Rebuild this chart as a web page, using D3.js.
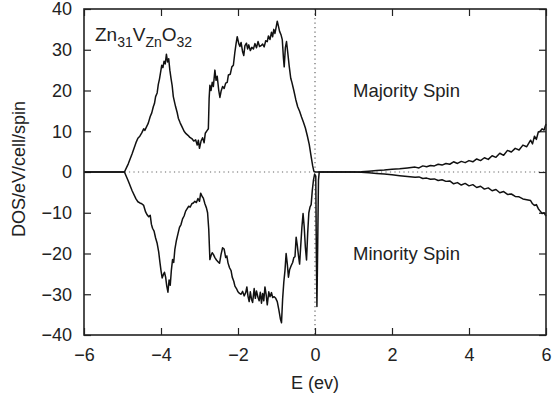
<!DOCTYPE html>
<html>
<head>
<meta charset="utf-8">
<script src="https://cdn.jsdelivr.net/npm/d3@7"></script>
<style>
  body { margin: 0; background: #fff; }
  svg { display: block; }
  text { font-family: "Liberation Sans", Arial, sans-serif; fill: #222; }
</style>
</head>
<body>
<div id="chart"></div>
<script>
// tick values
const xTicks = [-6, -4, -2, 0, 2, 4, 6];
const yTicks = [-40, -30, -20, -10, 0, 10, 20, 30, 40];

// majority spin (energy, dos)
const majE = [-6, -4.95, -4.85, -4.75, -4.65, -4.6, -4.55, -4.5, -4.45, -4.42, -4.38, -4.33, -4.28, -4.24, -4.2, -4.17, -4.14, -4.1, -4.07, -4.04,
  -4.01, -3.98, -3.95, -3.92, -3.89, -3.86, -3.83, -3.8, -3.77, -3.74, -3.71, -3.68, -3.65, -3.62, -3.58, -3.55, -3.5, -3.45, -3.4, -3.35,
  -3.3, -3.25, -3.2, -3.15, -3.1, -3.06, -3.03, -3.0, -2.96, -2.92, -2.88, -2.85, -2.8, -2.77, -2.75, -2.73, -2.7, -2.67, -2.64, -2.6,
  -2.57, -2.54, -2.5, -2.47, -2.44, -2.4, -2.36, -2.32, -2.28, -2.25, -2.2, -2.16, -2.12, -2.08, -2.05, -2.02, -1.98, -1.95, -1.92, -1.88,
  -1.85, -1.82, -1.78, -1.75, -1.72, -1.68, -1.64, -1.6, -1.56, -1.52, -1.48, -1.44, -1.4, -1.36, -1.32, -1.28, -1.24, -1.21, -1.17, -1.13,
  -1.1, -1.07, -1.04, -1.01, -0.98, -0.95, -0.92, -0.88, -0.85, -0.82, -0.8, -0.77, -0.74, -0.71, -0.67, -0.63, -0.6, -0.55, -0.5, -0.45,
  -0.4, -0.35, -0.3, -0.25, -0.2, -0.15, -0.1, -0.06, -0.03, 0, 1.0, 1.2, 1.4, 1.6, 1.8, 2.0, 2.2, 2.4, 2.6, 2.7,
  2.8, 2.9, 3.0, 3.1, 3.2, 3.3, 3.4, 3.5, 3.6, 3.7, 3.8, 3.9, 4.0, 4.1, 4.2, 4.3, 4.4, 4.5, 4.6, 4.7,
  4.8, 4.9, 5.0, 5.1, 5.2, 5.3, 5.4, 5.5, 5.6, 5.65, 5.7, 5.75, 5.8, 5.85, 5.9, 5.95, 6.0];
const majDos = [0, 0, 2.0, 4.5, 7.2, 8.3, 8.8, 9.6, 10.6, 10.2, 11.0, 12.0, 13.6, 14.5, 16.0, 16.8, 18.5, 19.4, 21.5, 22.8,
  24.5, 26.2, 25.6, 27.2, 26.5, 28.9, 27.0, 27.8, 25.0, 23.0, 21.2, 18.5, 17.2, 16.0, 14.6, 13.2, 12.0, 11.0, 10.0, 9.4,
  9.0, 8.5, 8.2, 7.6, 7.9, 6.6, 7.8, 5.8, 7.6, 8.4, 7.2, 9.5, 10.2, 10.6, 18.0, 21.3, 20.0, 22.0, 21.0, 25.0,
  22.5, 23.5, 20.0, 18.3, 19.8, 21.0, 20.5, 21.8, 22.0, 23.8, 24.0, 25.8, 26.2, 29.5, 31.5, 33.2, 31.5, 30.8, 31.8, 29.5,
  28.6, 31.0, 31.6, 30.2, 31.2, 29.8, 30.6, 30.2, 31.5, 30.5, 32.0, 30.8, 31.0, 31.4, 30.7, 32.2, 32.0, 33.4, 32.5, 34.3,
  33.2, 35.0, 34.0, 35.5, 37.0, 35.8, 34.5, 33.6, 32.5, 28.0, 25.8, 30.5, 32.0, 29.5, 26.0, 23.0, 22.0, 20.0, 17.8, 16.0,
  14.9, 13.5, 12.2, 10.8, 8.9, 6.8, 3.8, 1.5, 0.2, 0, 0, 0.05, 0.2, 0.35, 0.5, 0.7, 0.8, 1.0, 1.2, 1.0,
  1.5, 1.3, 1.6, 1.5, 1.9, 1.7, 2.1, 1.9, 2.5, 2.1, 2.6, 2.3, 2.8, 2.5, 3.2, 2.8, 3.5, 3.1, 4.0, 3.6,
  4.6, 4.1, 5.3, 4.9, 5.8, 5.4, 6.6, 6.2, 7.8, 6.9, 8.8, 8.0, 9.8, 10.0, 10.6, 10.3, 11.8];

// minority spin (energy, dos)
const minE = [-6, -4.95, -4.85, -4.75, -4.65, -4.6, -4.55, -4.5, -4.45, -4.4, -4.36, -4.32, -4.28, -4.25, -4.22, -4.18, -4.14, -4.1, -4.06, -4.03,
  -4.0, -3.97, -3.94, -3.91, -3.88, -3.85, -3.82, -3.79, -3.76, -3.73, -3.7, -3.67, -3.64, -3.6, -3.56, -3.52, -3.48, -3.44, -3.4, -3.36,
  -3.32, -3.28, -3.24, -3.2, -3.16, -3.12, -3.08, -3.04, -3.0, -2.97, -2.93, -2.9, -2.86, -2.82, -2.79, -2.76, -2.73, -2.7, -2.67, -2.64,
  -2.6, -2.56, -2.52, -2.48, -2.44, -2.4, -2.36, -2.32, -2.29, -2.26, -2.22, -2.18, -2.15, -2.11, -2.08, -2.04, -2.0, -1.96, -1.92, -1.88,
  -1.84, -1.8, -1.77, -1.74, -1.71, -1.68, -1.65, -1.62, -1.58, -1.55, -1.52, -1.48, -1.45, -1.42, -1.39, -1.36, -1.33, -1.3, -1.27, -1.24,
  -1.2, -1.17, -1.13, -1.1, -1.06, -1.02, -0.98, -0.94, -0.9, -0.87, -0.84, -0.81, -0.78, -0.75, -0.72, -0.69, -0.66, -0.62, -0.58, -0.55,
  -0.52, -0.49, -0.46, -0.43, -0.4, -0.37, -0.34, -0.31, -0.28, -0.25, -0.22, -0.19, -0.16, -0.13, -0.1, -0.07, -0.04, -0.01, 0.02, 0.035,
  0.05, 0.07, 0.09, 0.11, 1.0, 1.2, 1.4, 1.6, 1.8, 2.0, 2.2, 2.4, 2.6, 2.7, 2.8, 2.9, 3.0, 3.1, 3.2, 3.3,
  3.4, 3.5, 3.6, 3.7, 3.8, 3.9, 4.0, 4.1, 4.2, 4.3, 4.4, 4.5, 4.6, 4.7, 4.8, 4.9, 5.0, 5.1, 5.2, 5.3,
  5.4, 5.5, 5.6, 5.65, 5.7, 5.75, 5.8, 5.85, 5.9, 5.95, 6.0];
const minDos = [0, 0, -2.2, -4.6, -6.6, -7.3, -7.6, -7.8, -8.2, -9.8, -10.5, -11.0, -10.6, -12.8, -13.8, -14.5, -16.2, -17.5, -19.6, -22.0,
  -24.2, -26.0, -25.2, -24.6, -25.8, -28.0, -29.5, -26.5, -27.8, -24.0, -21.5, -22.2, -19.0, -16.8, -15.2, -13.6, -12.9, -11.5, -10.8, -9.6,
  -9.0, -8.4, -8.6, -7.8, -7.6, -7.2, -7.5, -6.5, -7.2, -5.2, -6.0, -6.4, -7.8, -8.8, -10.0, -14.0, -21.5, -20.5, -19.8, -20.2,
  -21.0, -21.6, -22.0, -22.4, -20.2, -18.6, -18.9, -21.0, -20.6, -22.3, -23.5, -24.2, -25.8, -26.8, -28.0, -28.6, -29.4, -29.8, -30.0, -29.3,
  -30.4, -29.6, -28.2, -30.5, -31.8, -29.4, -31.2, -32.0, -28.6, -31.0, -29.2, -30.8, -31.6, -29.5, -32.2, -29.8, -31.6, -28.2, -30.0, -32.6,
  -29.4, -30.6, -29.6, -30.8, -30.6, -31.0, -31.8, -33.8, -36.0, -37.0, -31.0, -27.0, -24.2, -20.0, -22.5, -25.8, -24.0, -23.0, -22.2, -21.0,
  -20.8, -16.0, -18.0, -20.5, -22.6, -18.0, -13.5, -10.2, -13.5, -18.5, -21.6, -15.0, -10.0, -8.6, -8.0, -4.5, -2.0, -0.5, -1.0, -20,
  -33.0, -18, -2, 0, 0, -0.05, -0.2, -0.35, -0.5, -0.7, -0.9, -1.1, -1.3, -1.2, -1.6, -1.5, -1.8, -1.7, -2.1, -1.9,
  -2.3, -2.2, -2.9, -2.6, -3.2, -2.8, -3.4, -3.1, -3.8, -3.5, -4.2, -3.9, -4.6, -4.3, -5.1, -4.8, -5.5, -5.4, -6.0, -6.1,
  -6.6, -6.8, -7.0, -7.8, -8.2, -8.0, -9.0, -9.6, -10.2, -10.0, -10.8];

const width = 554, height = 396;
const margin = { top: 9, right: 8, bottom: 61, left: 84 };

const x = d3.scaleLinear().domain([-6, 6]).range([margin.left, width - margin.right]);
const y = d3.scaleLinear().domain([-40, 40]).range([height - margin.bottom, margin.top]);

const svg = d3.select("#chart")
    .append("svg")
    .attr("width", width)
    .attr("height", height)
    .attr("viewBox", [0, 0, width, height]);

// dotted zero lines
svg.append("line")
    .attr("x1", x(-4.95)).attr("x2", x(6))
    .attr("y1", y(0)).attr("y2", y(0))
    .attr("stroke", "#666").attr("stroke-width", 1.2)
    .attr("stroke-dasharray", "1.2,3.3");

svg.append("line")
    .attr("x1", x(0)).attr("x2", x(0))
    .attr("y1", y(40)).attr("y2", y(-40))
    .attr("stroke", "#666").attr("stroke-width", 1.2)
    .attr("stroke-dasharray", "1.2,3.3");

// axes, ticks point inwards
const styleAxis = g => {
    g.select(".domain").remove();
    g.selectAll(".tick line").attr("stroke", "#222").attr("stroke-width", 1.2);
    g.selectAll(".tick text").style("font-size", "18px").attr("fill", "#222");
};

svg.append("g")
    .attr("transform", `translate(0,${y(-40)})`)
    .call(d3.axisBottom(x).tickValues(xTicks).tickFormat(d3.format("d")).tickSize(-7).tickPadding(13))
    .call(styleAxis);

svg.append("g")
    .attr("transform", `translate(0,${y(40)})`)
    .call(d3.axisTop(x).tickValues(xTicks).tickFormat("").tickSize(-7))
    .call(styleAxis);

svg.append("g")
    .attr("transform", `translate(${x(-6)},0)`)
    .call(d3.axisLeft(y).tickValues(yTicks).tickFormat(d3.format("d")).tickSize(-7).tickPadding(12))
    .call(styleAxis);

svg.append("g")
    .attr("transform", `translate(${x(6)},0)`)
    .call(d3.axisRight(y).tickValues(yTicks).tickFormat("").tickSize(-7))
    .call(styleAxis);

// curves
const line = d3.line()
    .x(d => x(d[0]))
    .y(d => y(d[1]));

const series = [d3.zip(majE, majDos), d3.zip(minE, minDos)];

svg.append("g")
    .selectAll("path")
    .data(series)
    .join("path")
    .attr("d", line)
    .attr("fill", "none")
    .attr("stroke", "#111")
    .attr("stroke-width", 1.5)
    .attr("stroke-linejoin", "round");

// frame
svg.append("rect")
    .attr("x", x(-6)).attr("y", y(40))
    .attr("width", x(6) - x(-6)).attr("height", y(-40) - y(40))
    .attr("fill", "none")
    .attr("stroke", "#222")
    .attr("stroke-width", 1.6);

// axis titles
svg.append("text")
    .attr("x", x(0)).attr("y", 389)
    .attr("text-anchor", "middle")
    .style("font-size", "18px")
    .text("E (ev)");

svg.append("text")
    .attr("transform", `translate(25,${y(0) - 3}) rotate(-90)`)
    .attr("text-anchor", "middle")
    .style("font-size", "18px")
    .text("DOS/eV/cell/spin");

// labels inside the plot
const formula = svg.append("text")
    .attr("x", 95).attr("y", 41)
    .style("font-size", "19px");
[["Zn", 0], ["31", 1], ["V", 0], ["Zn", 1], ["O", 0], ["32", 1]].forEach(([t, sub], i, arr) => {
    const prevSub = i > 0 ? arr[i - 1][1] : 0;
    formula.append("tspan")
        .attr("dy", sub === prevSub ? 0 : (sub ? 6 : -6))
        .style("font-size", sub ? "14px" : "19px")
        .text(t);
});

svg.append("text")
    .attr("x", 353).attr("y", 97)
    .style("font-size", "18.5px")
    .text("Majority Spin");

svg.append("text")
    .attr("x", 353).attr("y", 260)
    .style("font-size", "18.5px")
    .text("Minority Spin");
</script>
</body>
</html>
